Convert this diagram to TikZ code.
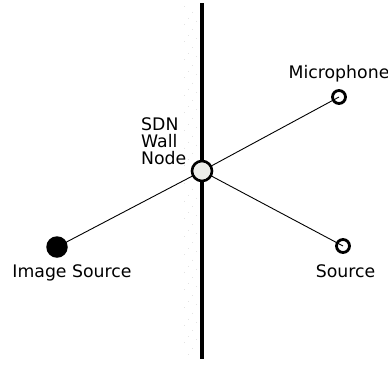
\documentclass[tikz,border=0pt]{standalone}
\usepackage{fontspec}
\setmainfont{DejaVu Sans}
\begin{document}
\begin{tikzpicture}[x=1pt,y=-1pt,
  lbl/.style={font=\fontsize{17.3}{17}\selectfont, inner sep=0pt},
  ring/.style={circle, draw=black, line width=2.8pt, minimum size=13pt, inner sep=0pt},
  wallnode/.style={circle, draw=black, line width=2.6pt, fill={rgb,255:red,236;green,237;blue,234}, minimum size=20pt, inner sep=0pt},
  imgsrc/.style={circle, fill=black, minimum size=21.5pt, inner sep=0pt},
  link/.style={draw=black, line width=0.9pt},
  wallline/.style={draw=black, line width=3.2pt}
]
\useasboundingbox (0,0) rectangle (388,365);
% faint stipple texture left of the wall
\foreach \x/\o in {184/0,188/6,192/12,196/3}
  \draw[gray!22, line width=0.7pt, dash pattern=on 0.7pt off 17pt, dash phase=\o pt] (\x,6) -- (\x,356);
\coordinate (wtop) at (202,3);
\coordinate (wbot) at (202,359);
\draw[wallline] (wtop) -- (wbot);
% nodes (positions)
\coordinate (wc) at (202,171);
\coordinate (micc) at (339,97);
\coordinate (srcc) at (343,246);
\coordinate (imgc) at (57,247);
% connectors
\draw[link] (wc) -- (micc);
\draw[link] (wc) -- (srcc);
\draw[link] (wc) -- (imgc);
% nodes on top
\node[wallnode] (w) at (wc) {};
\node[ring] (mic) at (micc) {};
\node[ring] (src) at (srcc) {};
\node[imgsrc] (img) at (imgc) {};
% labels
\node[lbl, anchor=base] (miclbl) at (339,78.3) {Microphone};
\node[lbl, anchor=base] (imglbl) at (72,277.3) {Image Source};
\node[lbl, anchor=base] (srclbl) at (345.5,277.3) {Source};
\node[lbl, anchor=base west, align=left] (wlbl) at (141,164.3) {SDN\\Wall\\Node};
\end{tikzpicture}
\end{document}
